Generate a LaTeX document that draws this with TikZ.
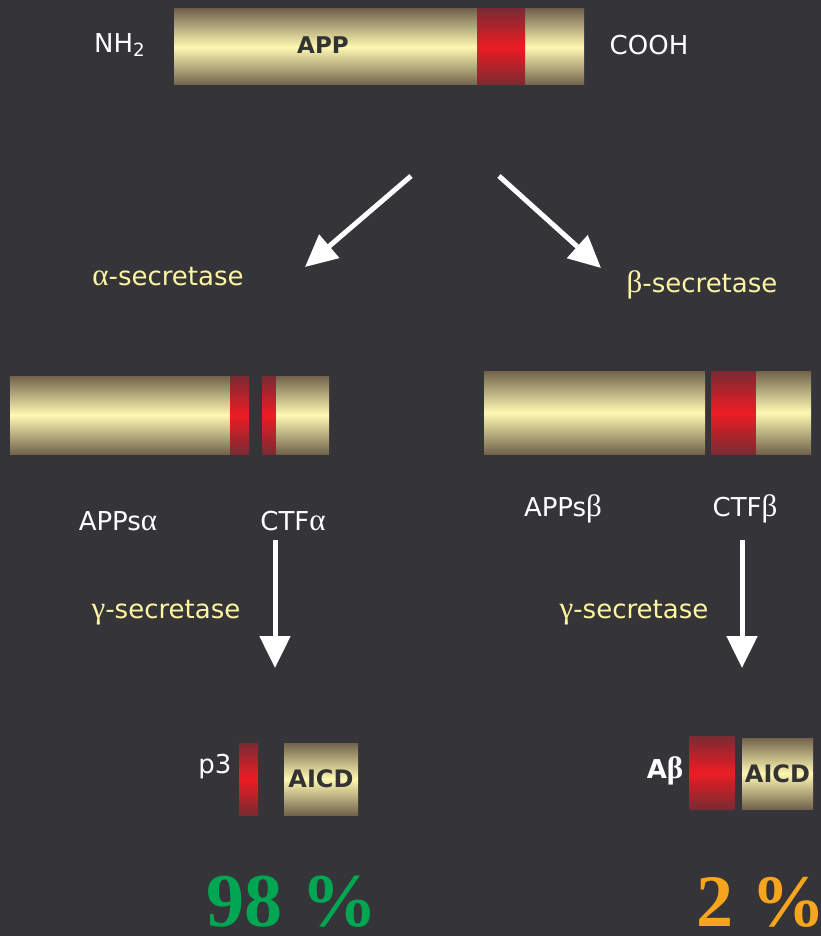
\documentclass[tikz,border=0pt]{standalone}
\usepackage{fontspec}
\setmainfont{DejaVu Sans}
\newfontfamily\grk{Liberation Serif}
\newfontfamily\tms{Liberation Serif}
\newcommand{\greekch}[1]{{\grk\fontsize{31}{31}\selectfont #1}}
\usetikzlibrary{arrows.meta}
\definecolor{bg}{RGB}{53,52,57}
\definecolor{barDark}{RGB}{114,99,76}
\definecolor{barLight}{RGB}{255,248,178}
\definecolor{redC}{RGB}{237,28,36}
\definecolor{redDark}{RGB}{122,42,50}
\definecolor{yel}{RGB}{255,245,160}
\definecolor{ink}{RGB}{51,51,51}
\definecolor{grn}{RGB}{0,166,81}
\definecolor{org}{RGB}{247,165,28}
\tikzset{
  bar/.style={draw=none, inner sep=0pt, outer sep=0pt, anchor=north west,
    top color=barDark, bottom color=barDark, middle color=barLight},
  band/.style={draw=none, inner sep=0pt, outer sep=0pt, anchor=north west,
    top color=redDark, bottom color=redDark, middle color=redC},
  lbl/.style={text=white, inner sep=0pt, font=\fontsize{26}{30}\selectfont},
  sec/.style={text=yel, inner sep=0pt, font=\fontsize{26}{30}\selectfont},
  inbar/.style={text=ink, inner sep=0pt, font=\bfseries\fontsize{24}{28}\selectfont},
  pct/.style={inner sep=0pt, anchor=base west, text depth=0pt, font=\tms\bfseries\fontsize{76}{80}\selectfont},
  bigarrow/.style={draw=white, line width=5pt, -{Triangle[width=30pt,length=32pt]}}
}
\begin{document}
\begin{tikzpicture}[x=1pt,y=-1pt]
\useasboundingbox (0,0) rectangle (821,936);
\fill[bg] (0,0) rectangle (821,936);

% APP
\node[bar, minimum width=410pt, minimum height=76pt] (app) at (174,9) {};
\node[band, minimum width=48pt, minimum height=76pt] (appband) at (477,9) {};
\node[inbar, font=\bfseries\fontsize{23}{27}\selectfont] (apptxt) at (323,45) {APP};
\node[lbl, anchor=west] (nh2) at (94,45) {NH\textsubscript{2}};
\node[lbl] (cooh) at (649,45) {COOH};

% diagonal arrows
\coordinate (a1s) at (411,176);
\coordinate (a1e) at (305,267);
\coordinate (a2s) at (499,176);
\coordinate (a2e) at (601,268);
\draw[bigarrow] (a1s) -- (a1e);
\draw[bigarrow] (a2s) -- (a2e);

\node[sec] (asec) at (168,277) {\greekch{α}-secretase};
\node[sec] (bsec) at (702,285) {\greekch{β}-secretase};

% alpha products
\node[bar, minimum width=220pt, minimum height=78pt] (appsa) at (10,376) {};
\node[band, minimum width=19pt, minimum height=78pt] (bandA1) at (230,376) {};
\node[band, minimum width=14pt, minimum height=78pt] (bandA2) at (262,376) {};
\node[bar, minimum width=53pt, minimum height=78pt] (ctfa) at (276,376) {};

% beta products
\node[bar, minimum width=221pt, minimum height=83pt] (appsb) at (484,371) {};
\node[band, minimum width=45pt, minimum height=83pt] (bandB) at (711,371) {};
\node[bar, minimum width=55pt, minimum height=83pt] (ctfb) at (756,371) {};

\node[lbl] (appsaT) at (118,521) {APPs\greekch{α}};
\node[lbl] (ctfaT) at (293,521) {CTF\greekch{α}};
\node[lbl] (appsbT) at (563,509) {APPs\greekch{β}};
\node[lbl] (ctfbT) at (745,509) {CTF\greekch{β}};

% vertical arrows
\coordinate (a3s) at (275,540);
\coordinate (a3e) at (275,668);
\coordinate (a4s) at (742,540);
\coordinate (a4e) at (742,668);
\draw[bigarrow] (a3s) -- (a3e);
\draw[bigarrow] (a4s) -- (a4e);

\node[sec] (gsec1) at (166,613) {\greekch{γ}-secretase};
\node[sec] (gsec2) at (634,613) {\greekch{γ}-secretase};

% final products
\node[band, minimum width=19pt, minimum height=72pt] (p3) at (239,743) {};
\node[bar, minimum width=74pt, minimum height=72pt] (aicd1) at (284,743) {};
\node[inbar] at (aicd1.center) {AICD};
\node[lbl] (p3T) at (215,767) {p3};

\node[band, minimum width=46pt, minimum height=73pt] (abeta) at (689,736) {};
\node[bar, minimum width=71pt, minimum height=71pt] (aicd2) at (742,738) {};
\node[inbar] at (aicd2.center) {AICD};
\node[lbl, font=\bfseries\fontsize{26}{30}\selectfont] (abT) at (665,771) {A\greekch{β}};

% percentages
\node[pct, text=grn] (p98) at (206,926) {98 \%};
\node[pct, text=org, font=\tms\bfseries\fontsize{74}{78}\selectfont] (p2) at (696,926) {2 \%};
\end{tikzpicture}
\end{document}
